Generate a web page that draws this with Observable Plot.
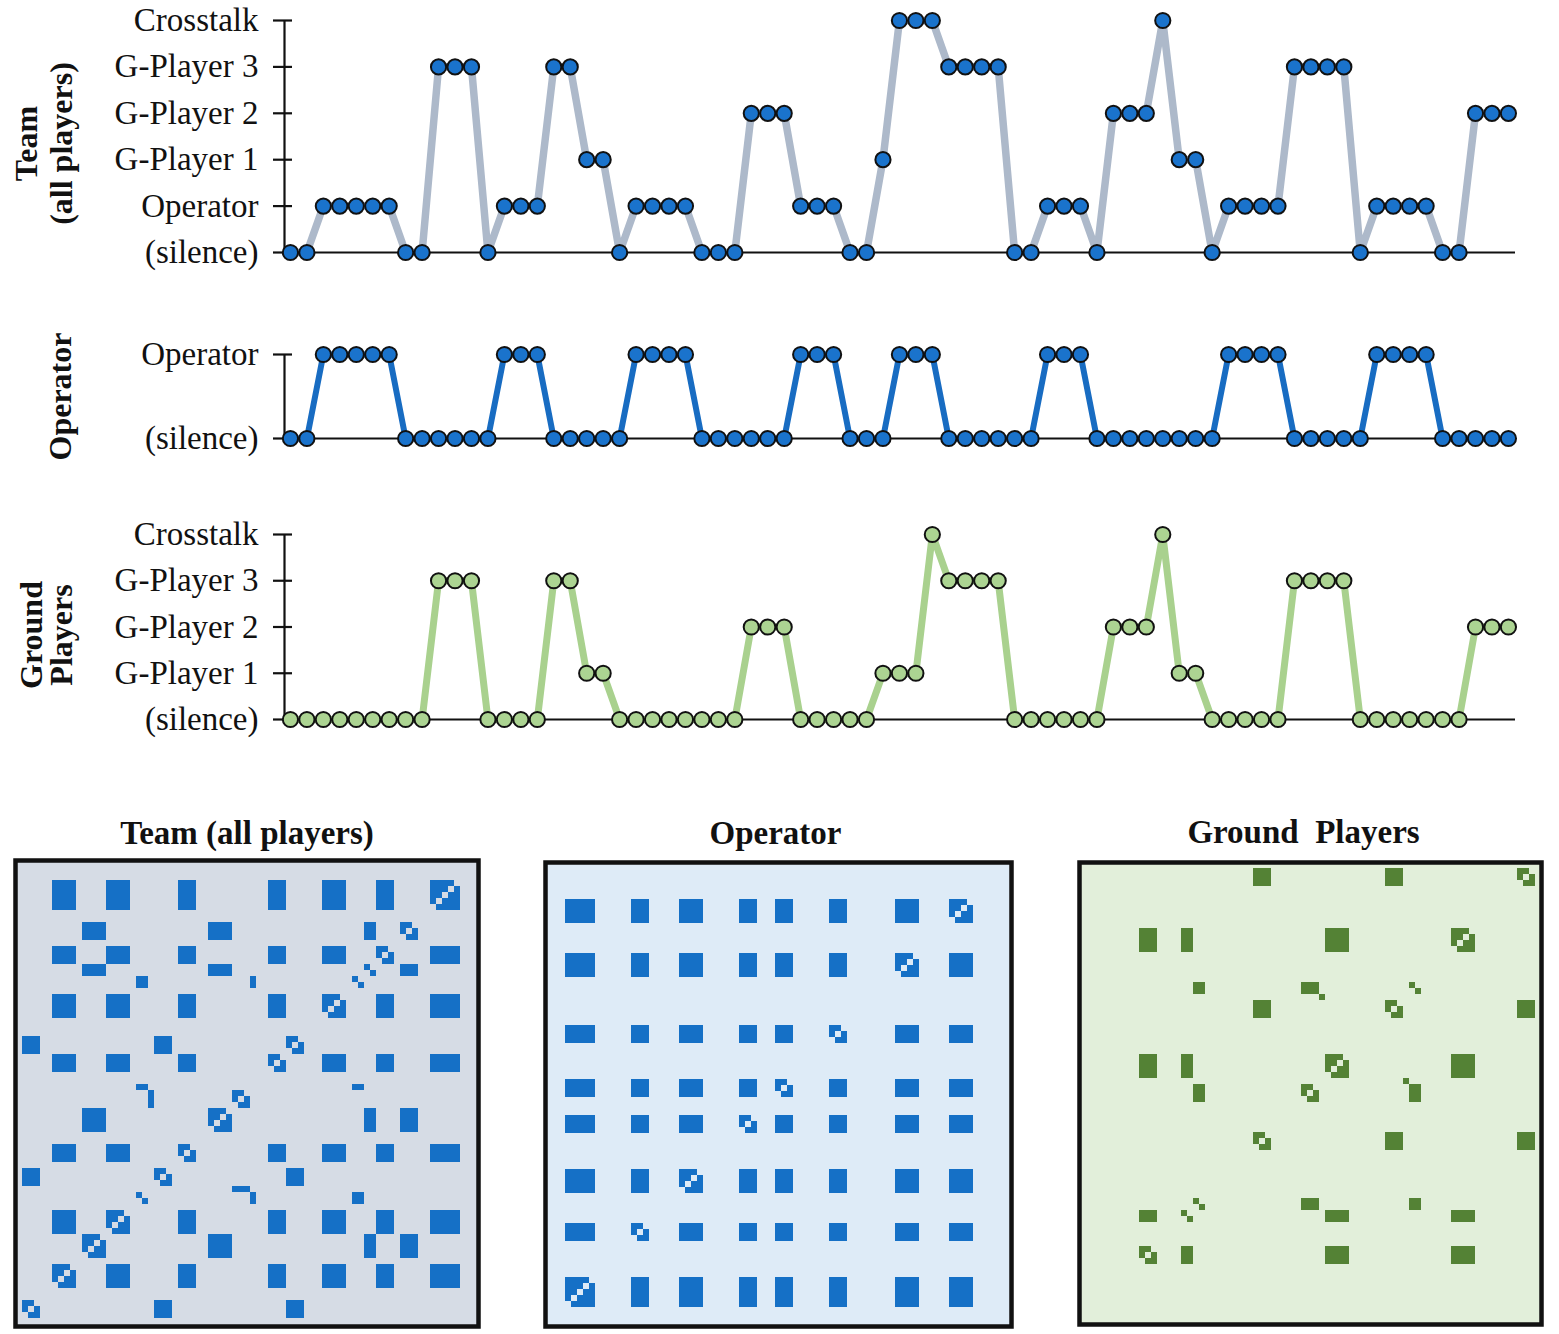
<!DOCTYPE html>
<html><head><meta charset="utf-8">
<script src="https://cdn.jsdelivr.net/npm/d3@7"></script>
<script src="https://cdn.jsdelivr.net/npm/@observablehq/plot@0.6"></script>
<style>
body{margin:0;background:#fff;}
#root{position:relative;width:1559px;height:1334px;overflow:hidden;}
#root svg{position:absolute;overflow:visible;background:none;}
#root svg text{white-space:pre;}
</style></head><body><div id="root"></div>
<script>
// ---- categories (tick labels) ----
const teamLevels = ["(silence)", "Operator", "G-Player 1", "G-Player 2", "G-Player 3", "Crosstalk"];
const operatorLevels = ["(silence)", "Operator"];
const groundLevels = ["(silence)", "G-Player 1", "G-Player 2", "G-Player 3", "Crosstalk"];

// ---- series (index into the level arrays above), 75 time steps ----
const teamSeries = [0,0,1,1,1,1,1,0,0,4,4,4,0,1,1,1,4,4,2,2,0,1,1,1,1,0,0,0,3,3,3,1,1,1,0,0,2,5,5,5,4,4,4,4,0,0,1,1,1,0,3,3,3,5,2,2,0,1,1,1,1,4,4,4,4,0,1,1,1,1,0,0,3,3,3];
const operatorSeries = [0,0,1,1,1,1,1,0,0,0,0,0,0,1,1,1,0,0,0,0,0,1,1,1,1,0,0,0,0,0,0,1,1,1,0,0,0,1,1,1,0,0,0,0,0,0,1,1,1,0,0,0,0,0,0,0,0,1,1,1,1,0,0,0,0,0,1,1,1,1,0,0,0,0,0];
const groundSeries = [0,0,0,0,0,0,0,0,0,3,3,3,0,0,0,0,3,3,1,1,0,0,0,0,0,0,0,0,2,2,2,0,0,0,0,0,1,1,1,4,3,3,3,3,0,0,0,0,0,0,2,2,2,4,1,1,0,0,0,0,0,3,3,3,3,0,0,0,0,0,0,0,2,2,2];

// ---- panel titles ----
const teamTitleLines = ["Team", "(all players)"];
const operatorTitleLines = ["Operator"];
const groundTitleLines = ["Ground", "Players"];
const recurrenceTitles = ["Team (all players)", "Operator", "Ground  Players"];

const SERIF = "'Liberation Serif','Times New Roman',Times,serif";
const root = document.getElementById("root");
const xMin = -0.36, xMax = 74.43;

function place(svg, left, top) {
  svg.style.left = left + "px";
  svg.style.top = top + "px";
  root.appendChild(svg);
}

function linePanel({series, levels, top, height, marginTop, marginBottom, lineColor, lineWidth, dotFill, titles, titleDx, titleDy}) {
  const data = series.map((v, i) => ({i, v}));
  const ticks = d3.range(levels.length);
  const svg = Plot.plot({
    width: 1559, height,
    marginLeft: 284, marginRight: 44, marginTop, marginBottom,
    style: {fontFamily: SERIF, background: "none"},
    x: {domain: [xMin, xMax], axis: null},
    y: {domain: [0, levels.length - 1], axis: null},
    marks: [
      Plot.axisY({ticks, tickFormat: k => levels[k], tickSize: 0, tickPadding: 26, fontSize: 33, fill: "#111", label: null}),
      Plot.tickY(ticks, {y: d => d, stroke: "#111", strokeWidth: 2.2, insetLeft: -11, insetRight: 1223}),
      Plot.ruleX([xMin], {stroke: "#111", strokeWidth: 2.2}),
      Plot.line(data, {x: "i", y: "v", stroke: lineColor, strokeWidth: lineWidth, strokeLinejoin: "miter", strokeMiterlimit: 2}),
      Plot.ruleY([0], {stroke: "#111", strokeWidth: 2.2}),
      Plot.dot(data, {x: "i", y: "v", r: 7.6, fill: dotFill, stroke: "#111", strokeWidth: 2}),
      ...titles.map((t, k) => Plot.text([t], {frameAnchor: "left", textAnchor: "middle", rotate: -90, dx: titleDx[k], dy: titleDy, fontSize: 32, fontWeight: "bold", fill: "#111", lineAnchor: "middle"}))
    ]
  });
  place(svg, 0, top);
}

linePanel({series: teamSeries, levels: teamLevels, top: 0, height: 275, marginTop: 20, marginBottom: 23,
  lineColor: "#adb9ca", lineWidth: 7.5, dotFill: "#1a73cc", titles: teamTitleLines, titleDx: [-258, -223], titleDy: 7});
linePanel({series: operatorSeries, levels: operatorLevels, top: 300, height: 160, marginTop: 54, marginBottom: 22,
  lineColor: "#186cc2", lineWidth: 6, dotFill: "#1a73cc", titles: operatorTitleLines, titleDx: [-224], titleDy: 0});
linePanel({series: groundSeries, levels: groundLevels, top: 500, height: 245, marginTop: 34, marginBottom: 26,
  lineColor: "#a9d18e", lineWidth: 7, dotFill: "#acd492", titles: groundTitleLines, titleDx: [-253, -223], titleDy: 8});

// ---- recurrence plots: cell (i,j) where the same non-silent state recurs (line of identity excluded) ----
function recurrence(series) {
  const cells = [];
  for (let i = 0; i < series.length; i++)
    for (let j = 0; j < series.length; j++)
      if (i !== j && series[i] !== 0 && series[i] === series[j]) cells.push({i, j});
  return cells;
}

function recurrencePanel({series, title, left, top, width, height, margins, bg, color, reverseX, reverseY, titleDx, titleDy}) {
  const idx = d3.range(series.length);
  const svg = Plot.plot({
    width, height,
    marginLeft: margins[0], marginRight: margins[1], marginTop: margins[2], marginBottom: margins[3],
    style: {fontFamily: SERIF, background: "none"},
    x: {type: "band", domain: idx, padding: 0, axis: null, reverse: reverseX, inset: 2},
    y: {type: "band", domain: idx, padding: 0, axis: null, reverse: reverseY, inset: 2},
    marks: [
      Plot.frame({fill: bg, stroke: null}),
      Plot.cell(recurrence(series), {x: "j", y: "i", fill: color, inset: 0, shapeRendering: "crispEdges"}),
      Plot.frame({stroke: "#111", strokeWidth: 4.5}),
      Plot.text([title], {frameAnchor: "top", lineAnchor: "bottom", dx: titleDx, dy: titleDy, fontSize: 33, fontWeight: "bold", fill: "#111"})
    ]
  });
  place(svg, left, top);
}

recurrencePanel({series: teamSeries, title: recurrenceTitles[0], left: 0, top: 800, width: 520, height: 534,
  margins: [15, 42, 60, 8], bg: "#d6dce5", color: "#1570c6", reverseX: true, reverseY: false, titleDx: 0, titleDy: -17});
recurrencePanel({series: operatorSeries, title: recurrenceTitles[1], left: 520, top: 800, width: 520, height: 534,
  margins: [25, 29, 62, 8], bg: "#deebf7", color: "#1570c6", reverseX: false, reverseY: true, titleDx: -3, titleDy: -19});
recurrencePanel({series: groundSeries, title: recurrenceTitles[2], left: 1040, top: 800, width: 519, height: 534,
  margins: [39, 18, 62, 10], bg: "#e2efda", color: "#548235", reverseX: false, reverseY: true, titleDx: -7, titleDy: -20});
</script>
</body></html>
